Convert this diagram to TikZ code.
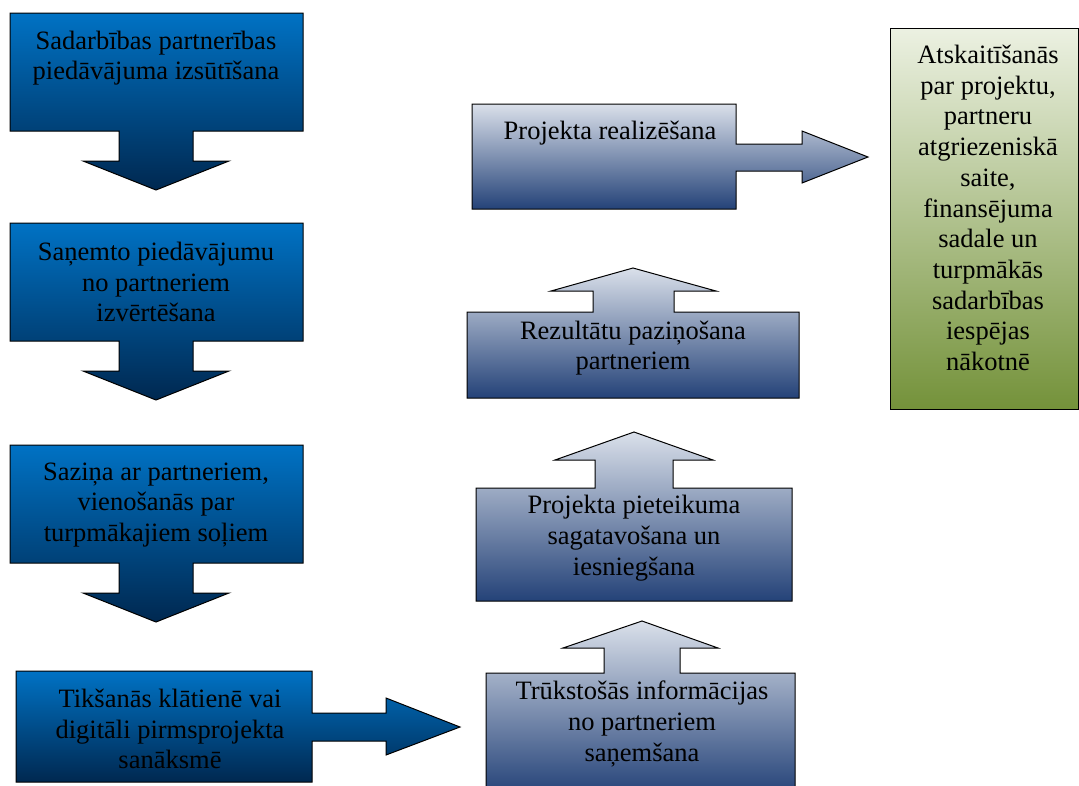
\documentclass[tikz,border=0pt]{standalone}
\usepackage{fontspec}
\setmainfont{Liberation Serif}
\definecolor{bluetop}{RGB}{0,114,196}
\definecolor{bluebot}{RGB}{0,40,80}
\definecolor{graytop}{RGB}{218,224,234}
\definecolor{graybot}{RGB}{36,66,120}
\definecolor{greentop}{RGB}{236,241,226}
\definecolor{greenbot}{RGB}{116,146,58}
\tikzset{
  bluebox/.style={draw=black, line width=1pt, line join=miter, top color=bluetop, bottom color=bluebot},
  graybox/.style={draw=black, line width=1pt, line join=miter, top color=graytop, bottom color=graybot},
  greenbox/.style={draw=black, line width=1pt, top color=greentop, bottom color=greenbot},
  lbl/.style={align=center, inner sep=0pt, font=\fontsize{26.5}{30.7}\selectfont, text=black}
}
\begin{document}
\begin{tikzpicture}[x=1pt,y=-1pt]
\useasboundingbox (0,0) rectangle (1079,785);
\clip (0,0) rectangle (1079,785);
% left column: down callouts
\foreach \s in {0,210,432}{
  \path[bluebox] (10,13+\s) -- (303,13+\s) -- (303,131+\s) -- (193,131+\s) -- (193,161+\s) -- (229,161+\s)
     -- (156,190+\s) -- (83,161+\s) -- (119,161+\s) -- (119,131+\s) -- (10,131+\s) -- cycle;
}
% right callout bottom left
\path[bluebox] (16,671) -- (312,671) -- (312,713) -- (386,713) -- (386,698) -- (460,727) -- (386,755)
   -- (386,741) -- (312,741) -- (312,782) -- (16,782) -- cycle;
% up callouts
\path[graybox] (486,795) -- (486,673) -- (604,673) -- (604,648) -- (563,648) -- (642,621) -- (718,648)
   -- (680,648) -- (680,673) -- (795,673) -- (795,795) -- cycle;
\path[graybox] (476,601) -- (476,488) -- (595,488) -- (595,460) -- (555,460) -- (634,432) -- (713,460)
   -- (673,460) -- (673,488) -- (792,488) -- (792,601) -- cycle;
\path[graybox] (467,398) -- (467,312) -- (593,312) -- (593,291) -- (551,291) -- (633,268) -- (716,291)
   -- (674,291) -- (674,312) -- (799,312) -- (799,398) -- cycle;
% right callout top
\path[graybox] (472,104) -- (736,104) -- (736,144) -- (802,144) -- (802,131) -- (868,157) -- (802,183)
   -- (802,171) -- (736,171) -- (736,209) -- (472,209) -- cycle;
% green box
\path[greenbox] (890,28) rectangle (1078,409);

% labels
\node[lbl] (t1) at (156,58) {Sadarbības partnerības\\piedāvājuma izsūtīšana};
\node[lbl] (t2) at (156,282) {Saņemto piedāvājumu\\no partneriem\\izvērtēšana};
\node[lbl] (t3) at (156,505) {Saziņa ar partneriem,\\vienošanās par\\turpmākajiem soļiem};
\node[lbl] (t4) at (170,729) {Tikšanās klātienē vai\\digitāli pirmsprojekta\\sanāksmē};
\node[lbl] (t5) at (642,724) {Trūkstošās informācijas\\no partneriem\\saņemšana};
\node[lbl] (t6) at (634,538) {Projekta pieteikuma\\sagatavošana un\\iesniegšana};
\node[lbl] (t7) at (633,348) {Rezultātu paziņošana\\partneriem};
\node[lbl] (t8) at (610,133) {Projekta realizēšana};
\node[lbl] (t9) at (988,208) {Atskaitīšanās\\par projektu,\\partneru\\atgriezeniskā\\saite,\\finansējuma\\sadale un\\turpmākās\\sadarbības\\iespējas\\nākotnē};
\end{tikzpicture}
\end{document}
